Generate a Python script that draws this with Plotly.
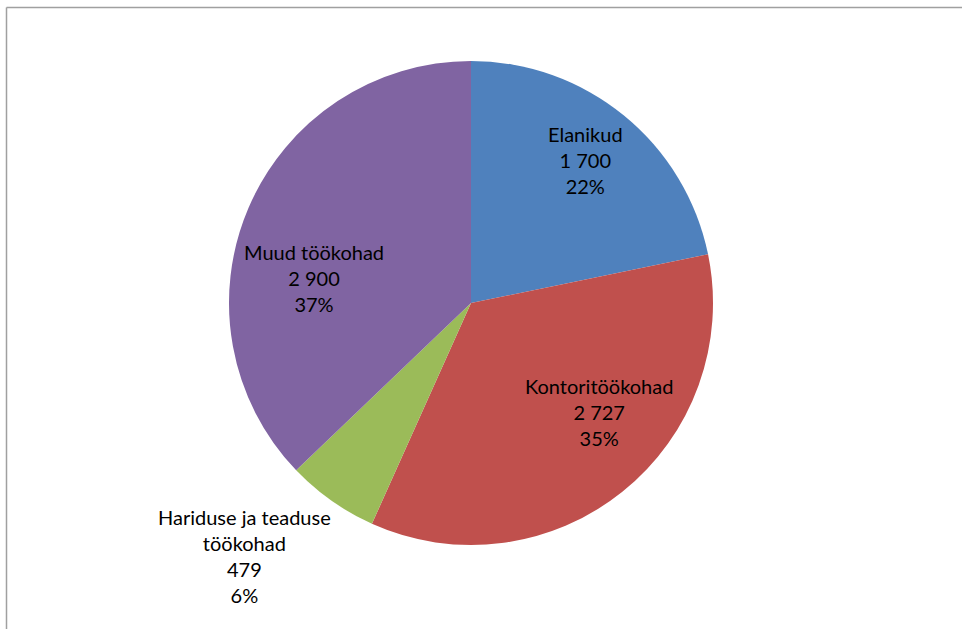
import plotly.graph_objects as go

# ---- data ----
categories = ["Elanikud", "Kontoritöökohad", "Hariduse ja teaduse töökohad", "Muud töökohad"]
display_labels = ["Elanikud", "Kontoritöökohad", "Hariduse ja teaduse<br>töökohad", "Muud töökohad"]
values = [1700, 2727, 479, 2900]
colors = ["#4F81BD", "#C0504D", "#9BBB59", "#8064A2"]

W, H = 963, 629
# label anchor positions in pixels (layout only)
label_pos = [(585, 160), (599, 412), (244, 556), (314, 278)]

total = sum(values)

fig = go.Figure(go.Pie(
    labels=categories,
    values=values,
    marker=dict(colors=colors, line=dict(width=0)),
    sort=False,
    direction="clockwise",
    rotation=0,
    textinfo="none",
    hoverinfo="label+value+percent",
    domain=dict(x=[229 / W, 713 / W], y=[1 - 545 / H, 1 - 61 / H]),
    showlegend=False,
))

def fmt(v):
    return f"{v:,}".replace(",", " ")

annotations = []
for lab, v, (px, py) in zip(display_labels, values, label_pos):
    pct = round(100 * v / total)
    annotations.append(dict(
        x=px / W, y=1 - py / H, xref="paper", yref="paper",
        text=f"{lab}<br>{fmt(v)}<br>{pct}%",
        showarrow=False, align="center",
        xanchor="center", yanchor="middle",
        font=dict(family="Lato, Open Sans, sans-serif", size=20, color="#000000"),
    ))

shapes = [
    dict(type="line", xref="paper", yref="paper",
         x0=6.5 / W, x1=962 / W, y0=1 - 7.5 / H, y1=1 - 7.5 / H,
         line=dict(color="#A0A0A0", width=1.5)),
    dict(type="line", xref="paper", yref="paper",
         x0=6.5 / W, x1=6.5 / W, y0=1 - 7.5 / H, y1=0,
         line=dict(color="#A0A0A0", width=1.5)),
]

fig.update_layout(
    width=W, height=H,
    margin=dict(l=0, r=0, t=0, b=0),
    paper_bgcolor="white",
    plot_bgcolor="white",
    annotations=annotations,
    shapes=shapes,
)

fig.write_html(
    "out.html",
    config={"displayModeBar": False},
    post_script="document.body.style.margin='0';document.body.style.overflow='hidden';",
)
